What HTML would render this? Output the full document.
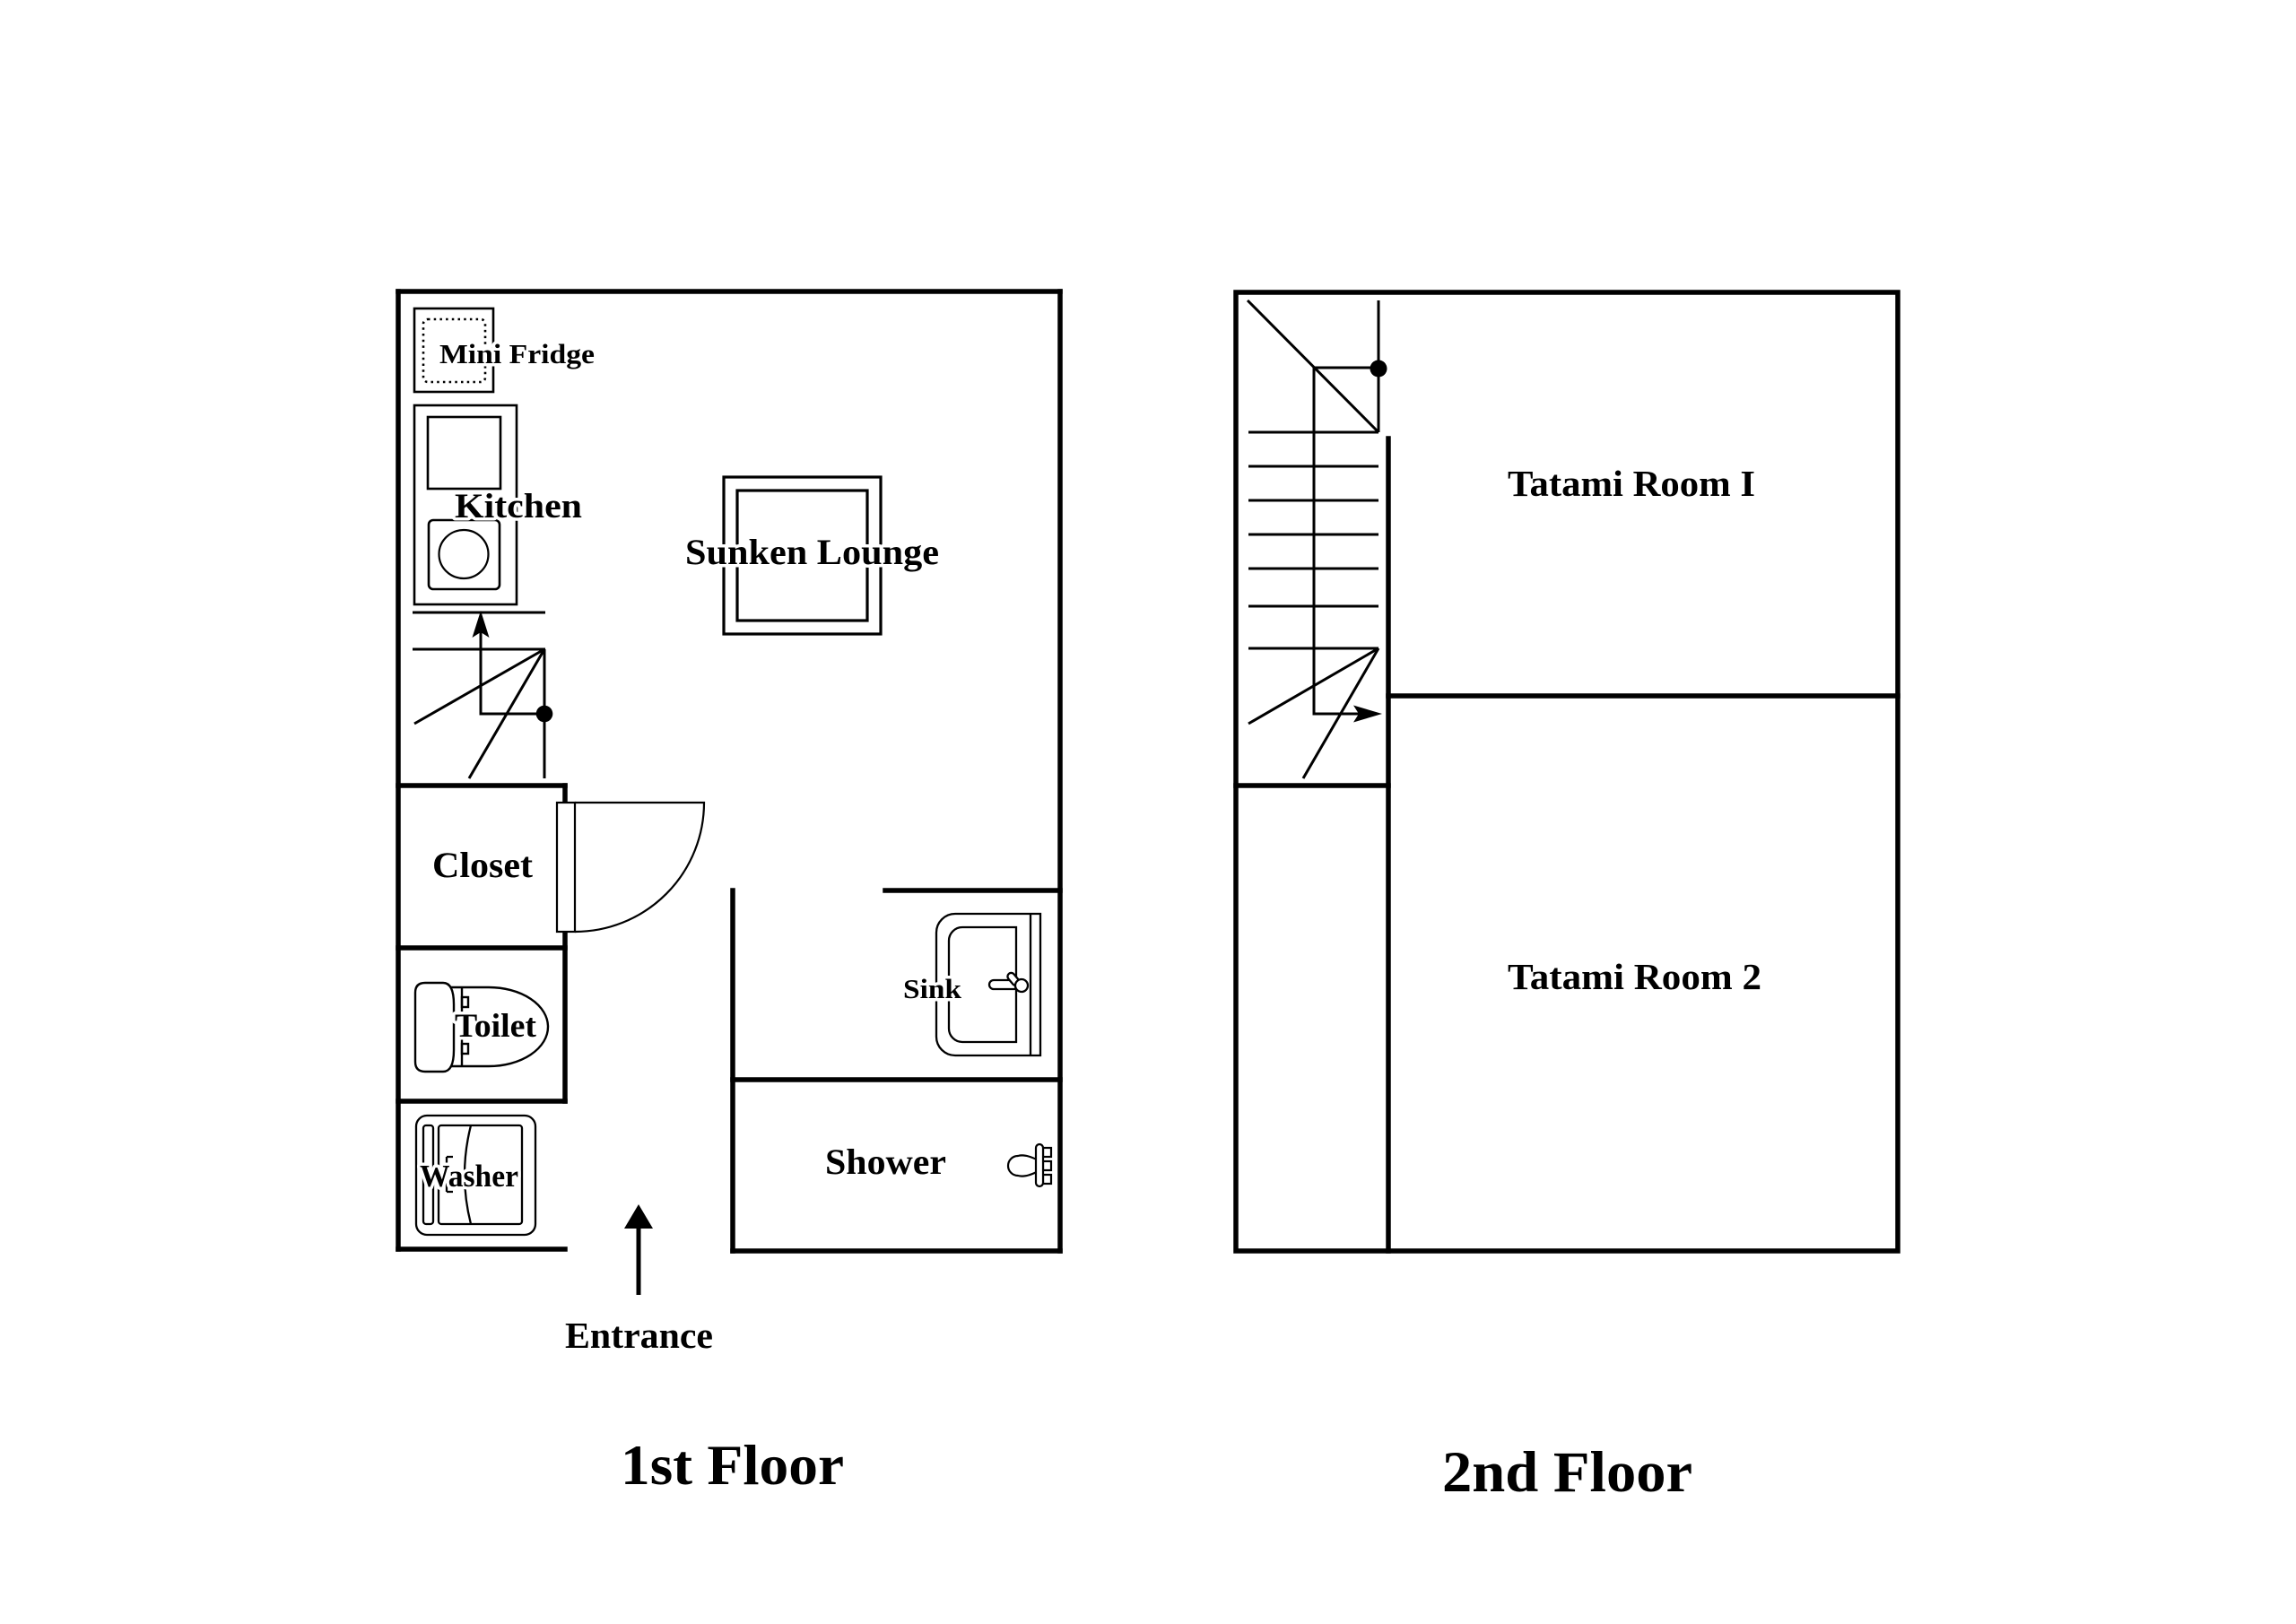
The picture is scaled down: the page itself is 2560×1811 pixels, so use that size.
<!DOCTYPE html>
<html>
<head>
<meta charset="utf-8">
<style>
  html,body{margin:0;padding:0;background:#fff;}
  svg{display:block;}
  text{font-family:"Liberation Serif","Noto Serif CJK SC",serif;font-weight:bold;fill:#000;}
  .lb{paint-order:stroke;stroke:#fff;stroke-width:7;stroke-linejoin:round;}
</style>
</head>
<body>
<svg width="2560" height="1811" viewBox="0 0 2560 1811" xmlns="http://www.w3.org/2000/svg">
  <rect x="0" y="0" width="2560" height="1811" fill="#fff"/>

  <!-- ================= 1st FLOOR ================= -->
  <g stroke="#000" stroke-width="5.5" fill="none" stroke-linecap="square">
    <!-- outer walls -->
    <line x1="444" y1="325" x2="1182" y2="325"/>
    <line x1="444" y1="325" x2="444" y2="1393"/>
    <line x1="1182" y1="325" x2="1182" y2="1395"/>
    <line x1="444" y1="1393" x2="630" y2="1393"/>
    <line x1="817" y1="1395" x2="1182" y2="1395"/>
    <!-- left column -->
    <line x1="444" y1="876" x2="630" y2="876"/>
    <line x1="630" y1="876" x2="630" y2="1228"/>
    <line x1="444" y1="1057" x2="630" y2="1057"/>
    <line x1="444" y1="1228" x2="630" y2="1228"/>
    <!-- right rooms -->
    <line x1="817" y1="993" x2="817" y2="1395"/>
    <line x1="987" y1="993" x2="1182" y2="993"/>
    <line x1="817" y1="1204" x2="1182" y2="1204"/>
  </g>

  <!-- Mini fridge -->
  <rect x="462" y="344" width="88" height="93" fill="none" stroke="#000" stroke-width="2.6"/>
  <rect x="472" y="356" width="69" height="70" rx="5" fill="none" stroke="#000" stroke-width="2.6" stroke-dasharray="2.5 4.2"/>

  <!-- Kitchen -->
  <rect x="462" y="452" width="114" height="222" fill="none" stroke="#000" stroke-width="2.6"/>
  <rect x="477" y="465" width="81" height="80" fill="none" stroke="#000" stroke-width="2.6"/>
  <rect x="478" y="580" width="79" height="77" rx="5" fill="none" stroke="#000" stroke-width="2.6"/>
  <ellipse cx="517" cy="618" rx="27.5" ry="27" fill="none" stroke="#000" stroke-width="2.2"/>

  <!-- 1st floor stairs -->
  <g stroke="#000" stroke-width="3" fill="none">
    <line x1="460" y1="683" x2="608" y2="683"/>
    <line x1="460" y1="724" x2="608" y2="724"/>
    <polyline points="536,700 536,796 607,796"/>
    <line x1="607" y1="724" x2="607" y2="868"/>
    <line x1="607" y1="724" x2="462" y2="807"/>
    <line x1="607" y1="724" x2="523" y2="868"/>
  </g>
  <path d="M536,681 L545.5,711 L536,705 L526.5,711 Z" fill="#000"/>
  <circle cx="607" cy="796" r="9.3" fill="#000"/>

  <!-- Sunken lounge -->
  <rect x="807" y="532" width="175" height="175" fill="none" stroke="#000" stroke-width="3.2"/>
  <rect x="822" y="547" width="145" height="145" fill="none" stroke="#000" stroke-width="3.2"/>

  <!-- Door -->
  <path d="M641,895 H785 A144,144 0 0 1 641,1039" fill="none" stroke="#000" stroke-width="2.2"/>
  <rect x="621" y="895" width="20" height="144" fill="#fff" stroke="#000" stroke-width="2.2"/>

  <!-- Toilet -->
  <g stroke="#000" stroke-width="2.4" fill="none">
    <path d="M500,1101 H545 A66,44 0 0 1 545,1189 H500"/>
    <line x1="515" y1="1101" x2="515" y2="1189"/>
    <rect x="515" y="1112" width="7" height="11"/>
    <rect x="515" y="1164" width="7" height="11"/>
    <path d="M474,1096 H494 Q506,1096 506,1120 V1171 Q506,1195 494,1195 H474 Q463,1195 463,1184 V1107 Q463,1096 474,1096 Z" fill="#fff"/>
  </g>

  <!-- Washer -->
  <g stroke="#000" stroke-width="2.3" fill="none">
    <rect x="464" y="1244" width="133" height="133" rx="12"/>
    <rect x="472" y="1255" width="11" height="110" rx="3"/>
    <rect x="489" y="1255" width="93" height="110" rx="3"/>
    <path d="M525,1255 Q511,1310 525,1365"/>
    <path d="M498,1290 H505 M498,1290 V1329 M498,1329 H505"/>
  </g>

  <!-- Sink -->
  <g stroke="#000" stroke-width="2.3" fill="none">
    <path d="M1160,1019 H1065 A21,21 0 0 0 1044,1040 V1156 A21,21 0 0 0 1065,1177 H1160 Z"/>
    <line x1="1149" y1="1019" x2="1149" y2="1177"/>
    <path d="M1133,1034 H1073 A15,15 0 0 0 1058,1049 V1147 A15,15 0 0 0 1073,1162 H1133 Z"/>
    <rect x="1103" y="1093" width="32" height="10" rx="5" fill="#fff"/>
    <rect x="1126" y="1084" width="8" height="16" rx="4" transform="rotate(-40 1130 1092)" fill="#fff"/>
    <circle cx="1139" cy="1099" r="7" fill="#fff"/>
  </g>

  <!-- Shower fixture -->
  <g stroke="#000" stroke-width="2.2" fill="#fff">
    <path d="M1160,1295 C1150,1290 1142,1287 1135,1289 A11,11 0 1 0 1135,1311 C1142,1313 1150,1310 1160,1305 Z"/>
    <rect x="1163" y="1280" width="9" height="10"/>
    <rect x="1163" y="1295" width="9" height="10"/>
    <rect x="1163" y="1310" width="9" height="10"/>
    <rect x="1155" y="1276" width="8" height="47" rx="4"/>
  </g>

  <!-- Entrance arrow -->
  <line x1="712" y1="1366" x2="712" y2="1444" stroke="#000" stroke-width="5"/>
  <path d="M712,1343 L728,1370 L696,1370 Z" fill="#000"/>

  <!-- ================= 2nd FLOOR ================= -->
  <g stroke="#000" stroke-width="5.5" fill="none" stroke-linecap="square">
    <rect x="1378" y="326" width="738" height="1069"/>
    <line x1="1548" y1="489" x2="1548" y2="1395"/>
    <line x1="1548" y1="776" x2="2116" y2="776"/>
    <line x1="1378" y1="876" x2="1548" y2="876"/>
  </g>
  <g stroke="#000" stroke-width="3" fill="none">
    <line x1="1391" y1="335" x2="1537" y2="482"/>
    <line x1="1537" y1="335" x2="1537" y2="482"/>
    <line x1="1465" y1="410" x2="1537" y2="410"/>
    <polyline points="1465,410 1465,796 1520,796"/>
    <line x1="1392" y1="482" x2="1537" y2="482"/>
    <line x1="1392" y1="520" x2="1537" y2="520"/>
    <line x1="1392" y1="558" x2="1537" y2="558"/>
    <line x1="1392" y1="596" x2="1537" y2="596"/>
    <line x1="1392" y1="634" x2="1537" y2="634"/>
    <line x1="1392" y1="676" x2="1537" y2="676"/>
    <line x1="1392" y1="723" x2="1537" y2="723"/>
    <line x1="1537" y1="723" x2="1392" y2="807"/>
    <line x1="1537" y1="723" x2="1453" y2="868"/>
  </g>
  <circle cx="1537" cy="411" r="9.5" fill="#000"/>
  <path d="M1541,796 L1509,786.5 L1515,796 L1509,805.5 Z" fill="#000"/>

  <!-- ================= LABELS ================= -->
  <text class="lb" x="490" y="405" font-size="31" textLength="173" lengthAdjust="spacingAndGlyphs">Mini Fridge</text>
  <text class="lb" x="507" y="577" font-size="39" textLength="142" lengthAdjust="spacingAndGlyphs">Kitchen</text>
  <text class="lb" x="764" y="629" font-size="40" textLength="283" lengthAdjust="spacingAndGlyphs">Sunken Lounge</text>
  <text class="lb" x="482" y="978" font-size="40" textLength="112" lengthAdjust="spacingAndGlyphs">Closet</text>
  <text class="lb" x="507" y="1156" font-size="37" textLength="91" lengthAdjust="spacingAndGlyphs">Toilet</text>
  <text class="lb" x="468" y="1323" font-size="35" textLength="110" lengthAdjust="spacingAndGlyphs">Washer</text>
  <text class="lb" x="1007" y="1113" font-size="31" textLength="65" lengthAdjust="spacingAndGlyphs">Sink</text>
  <text class="lb" x="920" y="1309" font-size="40" textLength="135" lengthAdjust="spacingAndGlyphs">Shower</text>
  <text x="630" y="1503" font-size="41" textLength="165" lengthAdjust="spacingAndGlyphs">Entrance</text>
  <text x="692" y="1655" font-size="64" textLength="249" lengthAdjust="spacingAndGlyphs">1st Floor</text>
  <text x="1608" y="1663" font-size="65" textLength="279" lengthAdjust="spacingAndGlyphs">2nd Floor</text>
  <text x="1681" y="553" font-size="41" textLength="276" lengthAdjust="spacingAndGlyphs">Tatami Room I</text>
  <text x="1681" y="1103" font-size="41" textLength="283" lengthAdjust="spacingAndGlyphs">Tatami Room 2</text>
</svg>
</body>
</html>
